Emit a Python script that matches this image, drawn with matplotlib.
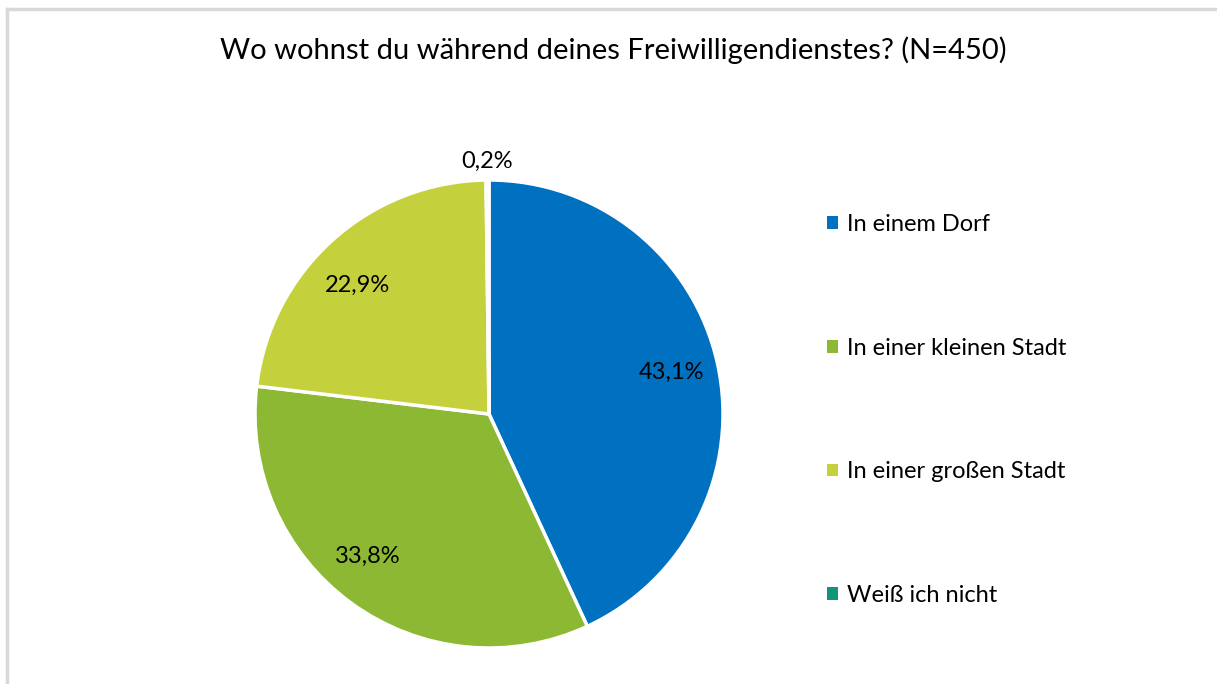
import matplotlib.pyplot as plt
from matplotlib.lines import Line2D
from matplotlib.patches import Patch

plt.rcParams['font.family'] = ['Lato', 'DejaVu Sans']

categories = ['In einem Dorf', 'In einer kleinen Stadt', 'In einer großen Stadt', 'Weiß ich nicht']
shares = [43.1, 33.8, 22.9, 0.2]
labels = ['43,1%', '33,8%', '22,9%', '0,2%']
colors = ['#0070C0', '#8CB834', '#C5D13C', '#109579']

W, H = 1217, 684
fig = plt.figure(figsize=(W / 100, H / 100), dpi=100)

# chart border (top and left visible)
fig.add_artist(Line2D([7 / W, 7 / W], [0, 1 - 9 / H], color='#D9D9D9', lw=2.5))
fig.add_artist(Line2D([7 / W, 1], [1 - 9 / H, 1 - 9 / H], color='#D9D9D9', lw=2.5))

fig.text(613 / W, 1 - 50 / H, 'Wo wohnst du während deines Freiwilligendienstes? (N=450)',
         ha='center', va='center', fontsize=21, color='#000000')

cx, cy, r = 489, 414, 234
ax = fig.add_axes([(cx - r) / W, 1 - (cy + r) / H, 2 * r / W, 2 * r / H])
wedges, _ = ax.pie(shares, colors=colors, startangle=90, counterclock=False,
                   radius=1.0, wedgeprops=dict(edgecolor='white', linewidth=2.5))
ax.set_xlim(-1, 1)
ax.set_ylim(-1, 1)
ax.set_aspect('equal')
ax.axis('off')

# label positions in data units relative to pie
label_pos = [(0.78, 0.18), (-0.52, -0.61), (-0.56, 0.55), (-0.01, 1.08)]
for (x, y), t in zip(label_pos, labels):
    ax.text(x, y, t, ha='center', va='center', fontsize=17, color='#000000')

handles = [Patch(facecolor=c, edgecolor='none') for c in colors]
leg = fig.legend(handles, categories, loc='center left',
                 bbox_to_anchor=(806 / W, 1 - 410 / H), frameon=False,
                 fontsize=17, handlelength=0.45, handleheight=0.45,
                 handletextpad=0.4, labelspacing=4.35)

fig.savefig('out.png', dpi=100)
